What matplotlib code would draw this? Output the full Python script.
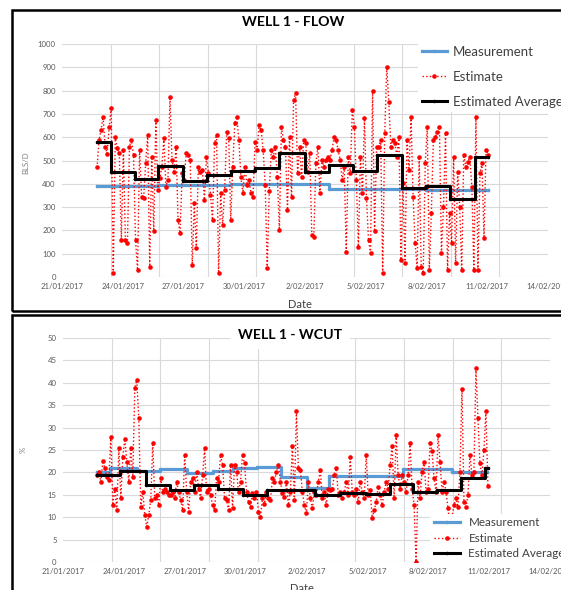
import matplotlib
matplotlib.use('Agg')
import matplotlib.pyplot as plt
import matplotlib.dates as mdates
from matplotlib.patches import Rectangle
from matplotlib.ticker import FixedLocator, MultipleLocator
import numpy as np
import pandas as pd

plt.rcParams['font.family'] = ['Lato', 'DejaVu Sans']

# ---------------- data ----------------
base_date = '2017-01-21'
axis_end_date = '2017-02-14'
tick_dates = ['2017-01-21', '2017-01-24', '2017-01-27', '2017-01-30', '2017-02-02',
              '2017-02-05', '2017-02-08', '2017-02-11', '2017-02-14']
tick_labels = ['21/01/2017', '24/01/2017', '27/01/2017', '30/01/2017', '2/02/2017',
               '5/02/2017', '8/02/2017', '11/02/2017', '14/02/2017']

# WELL 1 - FLOW (days after base date)
flow_meas_day = [1.73, 4.74, 8.35, 13.19, 17.98, 21.04]
flow_meas = [392, 395, 398, 376, 373, 373]

flow_est_first_day = 1.73
flow_est_last_day = 21.04
flow_est = [
    470, 588, 631, 688, 560, 530, 642,
    724, 16, 602, 552, 531, 160, 545, 160, 145, 560, 588, 524,
    160, 30, 545, 345, 338, 488, 610, 45, 516, 196, 674, 374,
    424, 474, 595, 388, 417, 774, 502, 452, 560, 245, 188, 445,
    417, 531, 524, 502, 51, 317, 123, 474, 452, 460, 331, 516,
    445, 352, 245, 574, 610, 16, 360, 223, 374, 624, 595, 245,
    474, 660, 688, 588, 431, 360, 474, 395, 417, 360, 345, 581,
    545, 653, 631, 545, 395, 37, 367, 545, 516, 560, 431, 202,
    645, 588, 560, 288, 602, 345, 760, 788, 445, 560, 431, 588,
    574, 452, 531, 180, 173, 488, 560, 360, 502, 474, 502, 516,
    502, 545, 602, 588, 545, 502, 417, 474, 109, 516, 445, 717,
    645, 417, 130, 516, 360, 681, 338, 159, 102, 800, 196, 560,
    560, 588, 16, 617, 902, 752, 560, 588, 574, 516, 602, 73,
    402, 59, 588, 460, 688, 345, 145, 37, 516, 45, 16, 488,
    645, 30, 274, 588, 602, 624, 645, 102, 302, 617, 30, 274,
    145, 516, 59, 452, 302, 30, 524, 474, 495, 516, 388, 30,
    688, 30, 445, 488, 166, 545, 524,
]

flow_avg_day = [1.73, 2.42, 3.60, 4.74, 5.98, 7.16, 8.35, 9.53, 10.72, 12.0,
                13.19, 14.37, 15.56, 16.79, 17.98, 19.16, 20.40, 21.04]
flow_avg = [580, 450, 420, 477, 412, 437, 457, 466, 533, 452, 480, 453, 525,
            380, 390, 333, 514]

# WELL 1 - WCUT
wcut_meas_day = [1.67, 2.32, 3.65, 4.78, 6.11, 7.39, 8.37, 9.56, 10.74, 12.02,
                 13.10, 16.75, 19.16, 20.89]
wcut_meas = [20.2, 20.9, 20.4, 20.8, 19.8, 20.4, 20.9, 21.2, 18.9, 16.5,
             19.2, 20.8, 20.1, 20.1]

wcut_est_first_day = 1.67
wcut_est_last_day = 20.94
wcut_est = [
    19.4, 20.2, 17.9, 22.6, 20.9, 19.0, 18.3,
    28.0, 12.7, 16.4, 11.6, 25.4, 14.2, 23.5, 27.5, 22.4, 17.9, 25.4, 19.0,
    38.8, 40.6, 32.1, 12.3, 15.7, 10.5, 7.9, 10.5, 13.8, 26.6, 14.2, 14.9,
    12.7, 18.7, 15.7, 16.4, 15.7, 14.9, 14.9, 15.7, 14.2, 17.9, 15.7, 13.8,
    11.6, 23.9, 15.7, 11.2, 17.9, 18.7, 15.7, 20.2, 16.4, 14.2, 19.4, 25.4,
    15.7, 16.4, 14.9, 12.7, 11.6, 18.7, 17.9, 23.9, 21.7, 14.2, 13.8, 11.6,
    21.7, 12.0, 21.7, 20.2, 15.7, 17.9, 23.9, 22.0, 15.7, 13.4, 12.3, 15.3,
    14.2, 15.7, 11.2, 10.1, 14.2, 13.0, 15.7, 14.2, 13.8, 18.7, 17.9, 20.2,
    21.7, 17.9, 15.3, 14.6, 17.9, 12.7, 15.7, 25.8, 13.8, 33.6, 20.9, 20.5,
    15.7, 12.7, 10.9, 17.9, 14.2, 12.0, 15.7, 14.9, 17.9, 20.5, 14.2, 15.7,
    12.7, 16.4, 16.0, 16.4, 19.4, 20.9, 14.9, 15.7, 14.2, 15.7, 17.9, 14.9,
    23.5, 15.7, 14.9, 16.4, 13.4, 17.9, 15.7, 14.2, 23.9, 14.9, 16.0, 9.8,
    11.6, 13.4, 16.8, 14.9, 12.7, 15.7, 17.9, 16.4, 21.7, 25.9, 14.2, 28.3,
    19.4, 16.4, 19.4, 17.9, 15.7, 19.4, 26.6, 16.4, 12.7, 0.0, 17.9, 14.2,
    20.2, 22.4, 15.7, 16.4, 26.6, 24.8, 18.7, 15.7, 28.3, 22.4, 15.7, 17.9,
    15.7, 12.0, 8.0, 10.1, 12.7, 14.2, 12.3, 20.2,
    38.7, 13.4, 12.3, 14.9, 23.9, 19.4, 20.2, 43.2, 32.1, 22.0, 19.4, 25.0, 33.6, 17.0,
]

wcut_avg_day = [1.67, 2.81, 4.09, 5.27, 6.45, 7.64, 8.87, 10.05, 11.23, 12.41,
                13.64, 14.93, 16.10, 17.24, 18.42, 19.60, 20.79, 20.94]
wcut_avg = [19.4, 20.4, 17.2, 16.0, 17.2, 16.3, 14.9, 16.0, 16.0, 14.9, 15.5,
            15.1, 17.5, 15.6, 16.0, 18.7, 20.9]

# ---------------- styling ----------------
W, H = 561, 590
BLUE = '#5B9BD5'
RED = '#FF0000'
GRID = '#D9D9D9'
TICK = '#595959'
TXT = '#404040'

fig = plt.figure(figsize=(W / 100, H / 100), dpi=100)
fig.patch.set_facecolor('white')

def fx(px):
    return px / W

def fy(py):
    return 1 - py / H

x0 = mdates.date2num(pd.Timestamp(base_date).to_pydatetime())
x1 = mdates.date2num(pd.Timestamp(axis_end_date).to_pydatetime())
tick_nums = [mdates.date2num(pd.Timestamp(d).to_pydatetime()) for d in tick_dates]


def steps(day, vals):
    xs = x0 + np.asarray(day, dtype=float)
    ys = list(vals) + [vals[-1]]
    return xs, ys[:len(xs)]


def make_panel(rect, ymax, ystep, meas_day, meas, est_first, est_last, est,
               avg_day, avg, title, title_xy, ylabel, ylabel_xy, date_xy,
               legend_xy, legend_fs, legend_hl, legend_tp, legend_ls, title_box):
    l, t, r, b = rect
    ax = fig.add_axes([fx(l), fy(b), fx(r - l), (b - t) / H])
    ax.set_facecolor('white')
    for s in ax.spines.values():
        s.set_visible(False)
    ax.set_xlim(x0, x1)
    ax.set_ylim(0, ymax)
    ax.yaxis.set_major_locator(MultipleLocator(ystep))
    ax.xaxis.set_major_locator(FixedLocator(tick_nums))
    ax.set_xticklabels(tick_labels)
    ax.xaxis.set_minor_locator(FixedLocator(np.linspace(x0, x1, 11)))
    ax.grid(True, axis='y', which='major', color=GRID, lw=0.8, zorder=0)
    ax.grid(True, axis='x', which='minor', color=GRID, lw=0.8, zorder=0)
    ax.tick_params(axis='both', which='both', length=0, colors=TICK, labelsize=5.6)
    ax.tick_params(axis='x', pad=4.2)
    ax.tick_params(axis='y', pad=4.5)
    ax.set_axisbelow(True)

    mx, my = steps(meas_day, meas)
    lm, = ax.plot(mx, my, drawstyle='steps-post', color=BLUE, lw=2.3,
                  marker='o', markersize=1.5, zorder=2, label='Measurement')
    ex = np.linspace(x0 + est_first, x0 + est_last, len(est))
    le, = ax.plot(ex, est, color=RED, lw=1.0, ls=':', marker='o', markersize=3.3,
                  markeredgewidth=0, zorder=3, label='Estimate')
    axx, ayy = steps(avg_day, avg)
    la, = ax.plot(axx, ayy, drawstyle='steps-post', color='black', lw=2.2,
                  marker='o', markersize=1.5, zorder=4, label='Estimated Average')

    leg = ax.legend(handles=[lm, le, la], loc='upper left',
                    bbox_to_anchor=(fx(legend_xy[0]), fy(legend_xy[1])),
                    bbox_transform=fig.transFigure, frameon=True, facecolor='white',
                    edgecolor='none', fancybox=False, framealpha=1,
                    fontsize=legend_fs, labelcolor=TXT, handlelength=legend_hl,
                    handletextpad=legend_tp, labelspacing=legend_ls,
                    borderpad=0.3, borderaxespad=0, numpoints=1)
    leg.set_zorder(5)

    bbox = None
    if title_box:
        bbox = dict(facecolor='white', edgecolor='none', pad=6)
    fig.text(fx(title_xy[0]), fy(title_xy[1]), title, fontsize=10.2, fontweight='bold',
             ha='center', va='center', color='black', bbox=bbox, zorder=6)
    fig.text(fx(ylabel_xy[0]), fy(ylabel_xy[1]), ylabel, fontsize=5.6, rotation=90,
             ha='center', va='center', color='#7F7F7F')
    fig.text(fx(date_xy[0]), fy(date_xy[1]), 'Date', fontsize=8, ha='center',
             va='center', color=TXT)
    return ax


make_panel((62, 44, 548, 277), 1000, 100, flow_meas_day, flow_meas,
           flow_est_first_day, flow_est_last_day, flow_est, flow_avg_day, flow_avg,
           'WELL 1 - FLOW', (293, 22), 'BLS/D', (26, 163), (300, 304),
           (418, 42), 9.5, 1.9, 0.45, 0.98, False)

make_panel((63, 338, 550, 562), 50, 5, wcut_meas_day, wcut_meas,
           wcut_est_first_day, wcut_est_last_day, wcut_est, wcut_avg_day, wcut_avg,
           'WELL 1 - WCUT', (290, 335), '%', (23, 450), (302, 588),
           (430, 514), 8.4, 2.3, 0.7, 0.37, True)

# panel frames
fig.add_artist(Rectangle((fx(12), fy(311)), fx(600), (311 - 10) / H,
                         transform=fig.transFigure, fill=False, edgecolor='black',
                         lw=1.8, zorder=10))
fig.add_artist(Rectangle((fx(12), fy(640)), fx(600), (640 - 314.5) / H,
                         transform=fig.transFigure, fill=False, edgecolor='black',
                         lw=1.8, zorder=10))

fig.savefig('out.png', dpi=100, facecolor='white')
